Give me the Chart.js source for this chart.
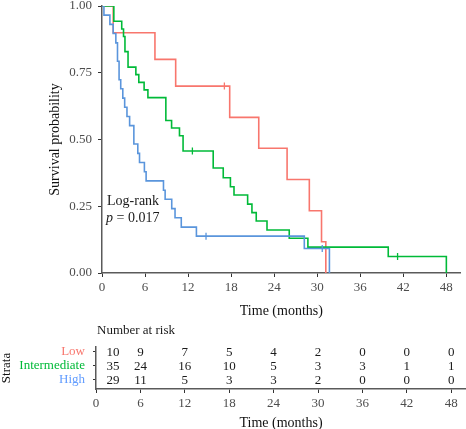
<!DOCTYPE html>
<html><head><meta charset="utf-8">
<script src="https://cdn.jsdelivr.net/npm/chart.js@4.4.1/dist/chart.umd.min.js"></script>
<style>
html,body{margin:0;padding:0;background:#fff;overflow:hidden;}
.box{position:absolute;left:0;width:466px;}
</style></head><body>
<div class="box" style="top:0;height:320px"><canvas id="km" width="466" height="320"></canvas></div>
<div class="box" style="top:320px;height:109px"><canvas id="risk" width="466" height="109"></canvas></div>
<script>
// ---------- data ----------
const strata = ['Low', 'Intermediate', 'High'];
const xTickValues = [0, 6, 12, 18, 24, 30, 36, 42, 48];
const yTickValues = [0, 0.25, 0.5, 0.75, 1];

const lowTime = [0, 1.56, 7.38, 10.27, 17.8, 21.85, 25.8, 28.9, 30.6, 31.2];
const lowSurv = [1, 0.9, 0.8, 0.7, 0.583, 0.467, 0.35, 0.233, 0.117, 0];
const lowCensorTime = [17.06];
const lowCensorSurv = [0.7];

const intTime = [0, 1.65, 2.75, 3.0, 3.2, 3.63, 4.72, 5.13, 5.87, 6.4, 8.9, 9.7, 10.8, 11.3, 15.5, 16.9, 17.9, 18.4, 20.3, 20.9, 21.5, 23.0, 26.1, 28.7, 39.9, 48];
const intSurv = [1, 0.943, 0.914, 0.886, 0.829, 0.771, 0.743, 0.714, 0.686, 0.657, 0.571, 0.543, 0.514, 0.457, 0.393, 0.357, 0.323, 0.292, 0.258, 0.226, 0.195, 0.161, 0.130, 0.097, 0.062, 0];
const intCensorTime = [12.6, 41.2];
const intCensorSurv = [0.457, 0.062];

const highTime = [0, 0.27, 1.1, 1.56, 1.93, 2.16, 2.38, 2.61, 2.9, 3.16, 3.48, 3.85, 4.44, 4.99, 5.23, 5.91, 6.15, 8.57, 8.8, 9.72, 10.18, 11.05, 13.16, 28.2, 31.7];
const highSurv = [1, 0.966, 0.931, 0.897, 0.862, 0.793, 0.724, 0.690, 0.655, 0.621, 0.586, 0.552, 0.483, 0.448, 0.414, 0.379, 0.345, 0.310, 0.276, 0.241, 0.207, 0.172, 0.138, 0.092, 0];
const highCensorTime = [14.5, 30.7];
const highCensorSurv = [0.138, 0.092];

const riskTimes = [0, 6, 12, 18, 24, 30, 36, 42, 48];
const riskLow = [10, 9, 7, 5, 4, 2, 0, 0, 0];
const riskInt = [35, 24, 16, 10, 5, 3, 3, 1, 1];
const riskHigh = [29, 11, 5, 3, 3, 2, 0, 0, 0];

// ---------- styles ----------
const FONT = "'Liberation Serif', 'Times New Roman', serif";
const colors = ['#F8766D', '#00BA38', '#5A95DC'];
const labelColors = ['#F8766D', '#00BA38', '#619CFF'];

function pts(t, s) { return t.map((v, i) => ({x: v, y: s[i]})); }
function km(label, t, s, c, order) {
  return {type: 'line', label, data: pts(t, s), borderColor: c, borderWidth: 1.6,
    stepped: 'before', pointRadius: 0, fill: false, order};
}
function cens(label, t, s, c) {
  return {type: 'scatter', label, data: pts(t, s), pointStyle: 'line', pointRotation: 90,
    pointRadius: 3.5, pointBorderColor: c, pointBackgroundColor: c, pointBorderWidth: 1.3, order: 0};
}

const annot = {
  id: 'annot',
  afterDraw(chart) {
    const {ctx, scales: {x, y}} = chart;
    const x0 = x.getPixelForValue(0) + 5;
    ctx.save();
    ctx.fillStyle = '#1a1a1a';
    ctx.textBaseline = 'alphabetic';
    ctx.textAlign = 'left';
    ctx.font = '14px ' + FONT;
    ctx.fillText('Log-rank', x0, y.getPixelForValue(0.255));
    ctx.font = 'italic 14px ' + FONT;
    ctx.fillText('p', x0 - 1, y.getPixelForValue(0.191));
    const w = ctx.measureText('p').width;
    ctx.font = '14px ' + FONT;
    ctx.fillText(' = 0.017', x0 - 1 + w, y.getPixelForValue(0.191));
    ctx.restore();
  }
};

new Chart(document.getElementById('km'), {
  data: {datasets: [
    km('Low', lowTime, lowSurv, colors[0], 3),
    km('Intermediate', intTime, intSurv, colors[1], 2),
    km('High', highTime, highSurv, colors[2], 1),
    cens('Low censor', lowCensorTime, lowCensorSurv, colors[0]),
    cens('Intermediate censor', intCensorTime, intCensorSurv, colors[1]),
    cens('High censor', highCensorTime, highCensorSurv, colors[2])
  ]},
  options: {
    responsive: false, animation: false,
    layout: {padding: {top: 6, left: 0, right: 0, bottom: 0}},
    plugins: {legend: {display: false}, tooltip: {enabled: false}},
    scales: {
      x: {type: 'linear', min: 0, max: 50,
        afterBuildTicks: s => { s.ticks = xTickValues.map(v => ({value: v})); },
        ticks: {font: {family: FONT, size: 13}, color: '#4d4d4d', padding: 3, maxRotation: 0, autoSkip: false},
        grid: {display: true, drawOnChartArea: false, drawTicks: true, tickLength: 4, color: '#333', lineWidth: 1},
        border: {display: true, color: '#5a5a5a', width: 1.5},
        title: {display: true, text: 'Time (months)', font: {family: FONT, size: 14}, color: '#111', padding: {top: 0, bottom: 0.6}},
        afterFit: s => { s.height = 47; s.paddingLeft = 0; s.paddingRight = 0; }
      },
      y: {type: 'linear', min: 0, max: 1,
        afterBuildTicks: s => { s.ticks = yTickValues.map(v => ({value: v})); },
        ticks: {font: {family: FONT, size: 13}, color: '#4d4d4d', padding: 6, callback: v => Number(v).toFixed(2)},
        grid: {display: true, drawOnChartArea: false, drawTicks: true, tickLength: 4, color: '#333', lineWidth: 1},
        border: {display: true, color: '#5a5a5a', width: 1.5},
        title: {display: true, text: 'Survival probability', font: {family: FONT, size: 14}, color: '#111', padding: {top: 46.6, bottom: 0}},
        afterFit: s => { s.width = 102; s.paddingTop = 0; s.paddingBottom = 0; }
      }
    }
  },
  plugins: [annot]
});

const riskRows = [riskLow, riskInt, riskHigh];
const riskText = {
  id: 'riskText',
  afterDraw(chart) {
    const {ctx, scales: {x, y}, chartArea} = chart;
    ctx.save();
    ctx.fillStyle = '#1a1a1a';
    ctx.font = '13px ' + FONT;
    ctx.textAlign = 'center';
    ctx.textBaseline = 'middle';
    riskRows.forEach((row, i) => {
      row.forEach((n, j) => {
        let px = x.getPixelForValue(riskTimes[j]);
        if (j === 0) px += 17;
        ctx.fillText(String(n), px, y.getPixelForValue(i) + 1);
      });
    });
    ctx.textAlign = 'left';
    ctx.fillText('Number at risk', chartArea.left + 1, 11);
    ctx.restore();
  }
};

new Chart(document.getElementById('risk'), {
  type: 'scatter',
  data: {datasets: [{data: []}]},
  options: {
    responsive: false, animation: false,
    layout: {padding: {top: 27, left: 0, right: 0, bottom: 0}},
    plugins: {legend: {display: false}, tooltip: {enabled: false}},
    scales: {
      x: {type: 'linear', min: 0, max: 50,
        afterBuildTicks: s => { s.ticks = xTickValues.map(v => ({value: v})); },
        ticks: {font: {family: FONT, size: 13}, color: '#4d4d4d', padding: 3, maxRotation: 0, autoSkip: false},
        grid: {display: true, drawOnChartArea: false, drawTicks: true, tickLength: 4, color: '#333', lineWidth: 1},
        border: {display: true, color: '#5a5a5a', width: 1.5},
        title: {display: true, text: 'Time (months)', font: {family: FONT, size: 14, lineHeight: '12px'}, color: '#111', padding: {top: 0, bottom: 0}},
        afterFit: s => { s.height = 40; s.paddingLeft = 0; s.paddingRight = 0; }
      },
      y: {type: 'linear', min: -0.357, max: 2.643, reverse: true,
        afterBuildTicks: s => { s.ticks = strata.map((_, i) => ({value: i})); },
        ticks: {font: {family: FONT, size: 13}, padding: 8,
          color: c => labelColors[c.index], callback: v => strata[v]},
        grid: {display: true, drawOnChartArea: false, drawTicks: true, tickLength: 3, color: '#333', lineWidth: 1},
        border: {display: true, color: '#5a5a5a', width: 1.5},
        title: {display: true, text: 'Strata', font: {family: FONT, size: 13, lineHeight: '13px'}, color: '#111', padding: {top: 0, bottom: 0}},
        afterFit: s => { s.width = 96; s.paddingTop = 0; s.paddingBottom = 0; }
      }
    }
  },
  plugins: [riskText]
});
</script>
</body></html>
